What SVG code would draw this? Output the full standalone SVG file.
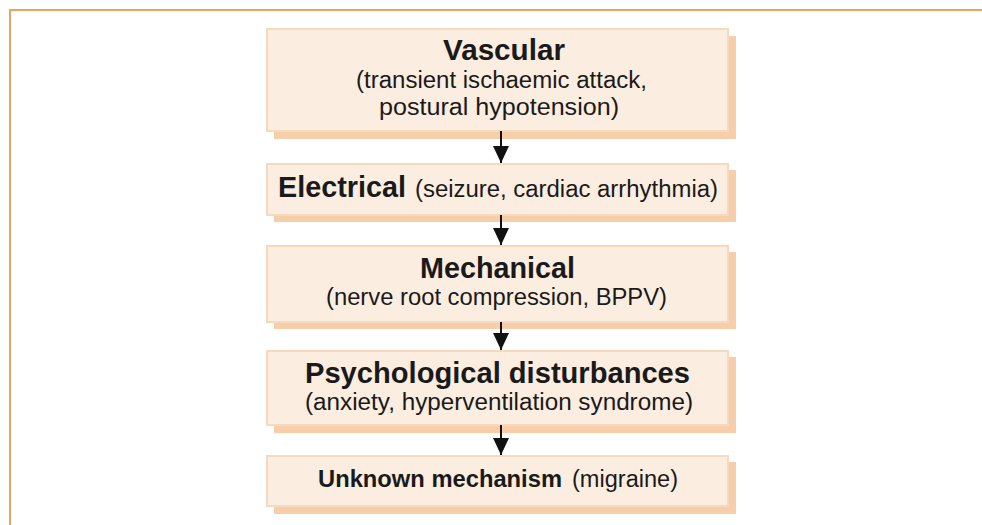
<svg xmlns="http://www.w3.org/2000/svg" width="982" height="525" viewBox="0 0 982 525">
<style>
.frame{fill:none;stroke:#E9A363;stroke-width:2}
.shadow{fill:#F6CEA9}
.box{fill:#FBEDE0;stroke:#F7D9BE;stroke-width:2}
.b{font-family:"Liberation Sans",Arial,sans-serif;font-weight:bold;fill:#1a1a1a}
.n{font-family:"Liberation Sans",Arial,sans-serif;fill:#1a1a1a}
.conn line{stroke:#111;stroke-width:2}
</style>
<defs>
<marker id="ah" markerUnits="userSpaceOnUse" markerWidth="20" markerHeight="20" refX="17" refY="8" orient="auto">
<path d="M0,0 L17,8 L0,16 z" fill="#111"/>
</marker>
</defs>
<rect width="982" height="525" fill="#fff"/>
<path class="frame" d="M10,525 V10 H982"/>
<g id="vascular">
<rect class="shadow" x="274" y="36" width="462" height="103"/>
<rect class="box" x="267" y="29" width="461" height="102"/>
<text class="b" x="443" y="60" font-size="29" textLength="122" lengthAdjust="spacingAndGlyphs">Vascular</text>
<text class="n" x="356" y="88" font-size="23" textLength="291" lengthAdjust="spacingAndGlyphs">(transient ischaemic attack,</text>
<text class="n" x="379" y="115" font-size="23" textLength="240" lengthAdjust="spacingAndGlyphs">postural hypotension)</text>
</g>
<g id="electrical">
<rect class="shadow" x="274" y="170" width="462" height="52"/>
<rect class="box" x="267" y="164" width="461" height="51"/>
<text class="b" x="278" y="197" font-size="29" textLength="128" lengthAdjust="spacingAndGlyphs">Electrical</text>
<text class="n" x="415" y="197" font-size="23" textLength="303" lengthAdjust="spacingAndGlyphs">(seizure, cardiac arrhythmia)</text>
</g>
<g id="mechanical">
<rect class="shadow" x="274" y="252" width="462" height="77"/>
<rect class="box" x="267" y="246" width="461" height="76"/>
<text class="b" x="420" y="278" font-size="29" textLength="155" lengthAdjust="spacingAndGlyphs">Mechanical</text>
<text class="n" x="326" y="305" font-size="23" textLength="341" lengthAdjust="spacingAndGlyphs">(nerve root compression, BPPV)</text>
</g>
<g id="psychological">
<rect class="shadow" x="274" y="357" width="462" height="76"/>
<rect class="box" x="267" y="351" width="461" height="74"/>
<text class="b" x="305" y="383" font-size="29" textLength="385" lengthAdjust="spacingAndGlyphs">Psychological disturbances</text>
<text class="n" x="305" y="410" font-size="23" textLength="388" lengthAdjust="spacingAndGlyphs">(anxiety, hyperventilation syndrome)</text>
</g>
<g id="unknown">
<rect class="shadow" x="274" y="462" width="462" height="52"/>
<rect class="box" x="267" y="456" width="461" height="50"/>
<text class="b" x="318" y="487" font-size="23.5" textLength="244" lengthAdjust="spacingAndGlyphs">Unknown mechanism</text>
<text class="n" x="572" y="487" font-size="23.5" textLength="106" lengthAdjust="spacingAndGlyphs">(migraine)</text>
</g>
<g id="connectors" class="conn">
<line x1="501" y1="131" x2="501" y2="163" marker-end="url(#ah)"/>
<line x1="501" y1="215" x2="501" y2="245" marker-end="url(#ah)"/>
<line x1="501" y1="322" x2="501" y2="350" marker-end="url(#ah)"/>
<line x1="501" y1="425" x2="501" y2="455" marker-end="url(#ah)"/>
</g>
</svg>
